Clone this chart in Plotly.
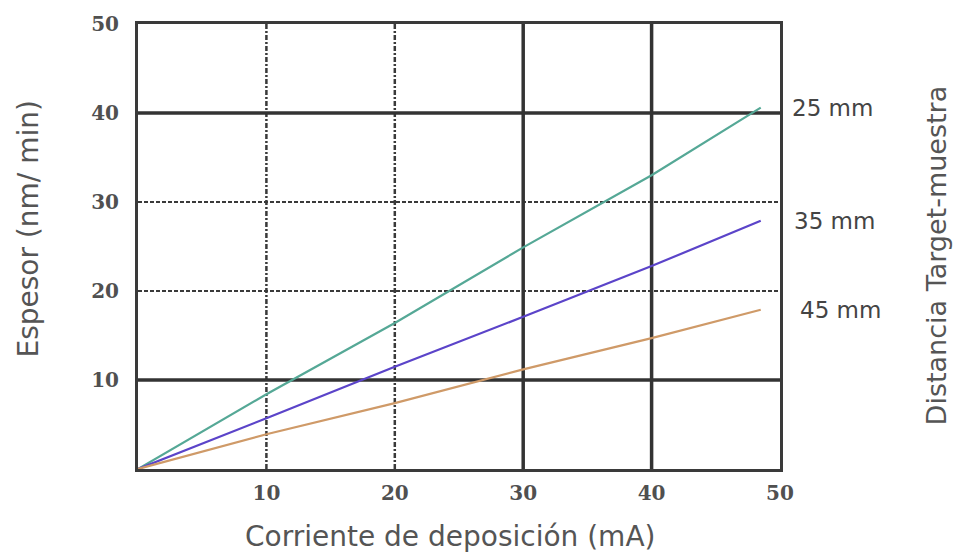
import plotly.graph_objects as go

# Deposition current (mA) and resulting thickness rate (nm/min) per target-sample distance
corriente = [0, 10, 20, 30, 40, 48.5]
espesor_25mm = [0, 8.4, 16.4, 24.9, 33.0, 40.6]
espesor_35mm = [0, 5.7, 11.5, 17.1, 22.8, 27.9]
espesor_45mm = [0, 3.9, 7.4, 11.2, 14.7, 17.9]

series_labels = ["25 mm", "35 mm", "45 mm"]
series_colors = ["#55a896", "#5b44c9", "#cf9a68"]

x_ticks = [10, 20, 30, 40, 50]
y_ticks = [10, 20, 30, 40, 50]
x_grid_solid = [30, 40]
x_grid_dotted = [10, 20]
y_grid_solid = [10, 40]
y_grid_dotted = [20, 30]

fig = go.Figure()

shapes = []
for gx in x_grid_dotted:
    shapes.append(dict(type="line", xref="x", yref="paper", x0=gx, x1=gx, y0=0, y1=1,
                       line=dict(color="#3a3a3a", width=2.5, dash="5px,2px,2px,2px"), layer="below"))
for gy in y_grid_dotted:
    shapes.append(dict(type="line", xref="paper", yref="y", x0=0, x1=1, y0=gy, y1=gy,
                       line=dict(color="#3a3a3a", width=2, dash="4px,2px"), layer="below"))
for gx in x_grid_solid:
    shapes.append(dict(type="line", xref="x", yref="paper", x0=gx, x1=gx, y0=0, y1=1,
                       line=dict(color="#333333", width=3.5), layer="below"))
for gy in y_grid_solid:
    shapes.append(dict(type="line", xref="paper", yref="y", x0=0, x1=1, y0=gy, y1=gy,
                       line=dict(color="#333333", width=3.5), layer="below"))

for ys, name, color in zip([espesor_25mm, espesor_35mm, espesor_45mm], series_labels, series_colors):
    fig.add_trace(go.Scatter(x=corriente, y=ys, mode="lines", name=name,
                             line=dict(color=color, width=2.2), showlegend=False))

title_font = dict(family="DejaVu Sans", color="#555555")
annotations = []
for ys, name, dx in zip([espesor_25mm, espesor_35mm, espesor_45mm], series_labels, [0.0, 0.004, 0.013]):
    annotations.append(dict(x=1.015 + dx, xref="paper", y=ys[-1], yref="y", text=name,
                            showarrow=False, xanchor="left", yanchor="middle",
                            font=dict(family="DejaVu Sans", size=23, color="#444444")))
annotations.append(dict(x=1.243, xref="paper", y=0.48, yref="paper", text="Distancia Target-muestra",
                        textangle=-90, showarrow=False, xanchor="center", yanchor="middle",
                        font=dict(size=27, **title_font)))
annotations.append(dict(x=-0.17, xref="paper", y=0.54, yref="paper", text="Espesor (nm/ min)",
                        textangle=-90, showarrow=False, xanchor="center", yanchor="middle",
                        font=dict(size=28, **title_font)))
annotations.append(dict(x=0.486, xref="paper", y=-0.152, yref="paper", text="Corriente de deposición (mA)",
                        showarrow=False, xanchor="center", yanchor="middle",
                        font=dict(size=28, **title_font)))

fig.update_layout(
    width=956, height=559,
    margin=dict(l=138, r=176, t=17, b=90),
    paper_bgcolor="white", plot_bgcolor="white",
    shapes=shapes, annotations=annotations,
    xaxis=dict(range=[0, 50], tickmode="array", tickvals=x_ticks,
               showgrid=False, zeroline=False, showline=True, mirror=True,
               linecolor="#3a3a3a", linewidth=3, ticks="", ticklabelstandoff=4,
               tickfont=dict(family="DejaVu Serif", size=20, color="#505050", weight="bold")),
    yaxis=dict(range=[0, 50], tickmode="array", tickvals=y_ticks,
               showgrid=False, zeroline=False, showline=True, mirror=True,
               linecolor="#3a3a3a", linewidth=3, ticks="", ticklabelstandoff=12,
               tickfont=dict(family="DejaVu Serif", size=20, color="#505050", weight="bold")),
)

fig.write_html("out.html")
